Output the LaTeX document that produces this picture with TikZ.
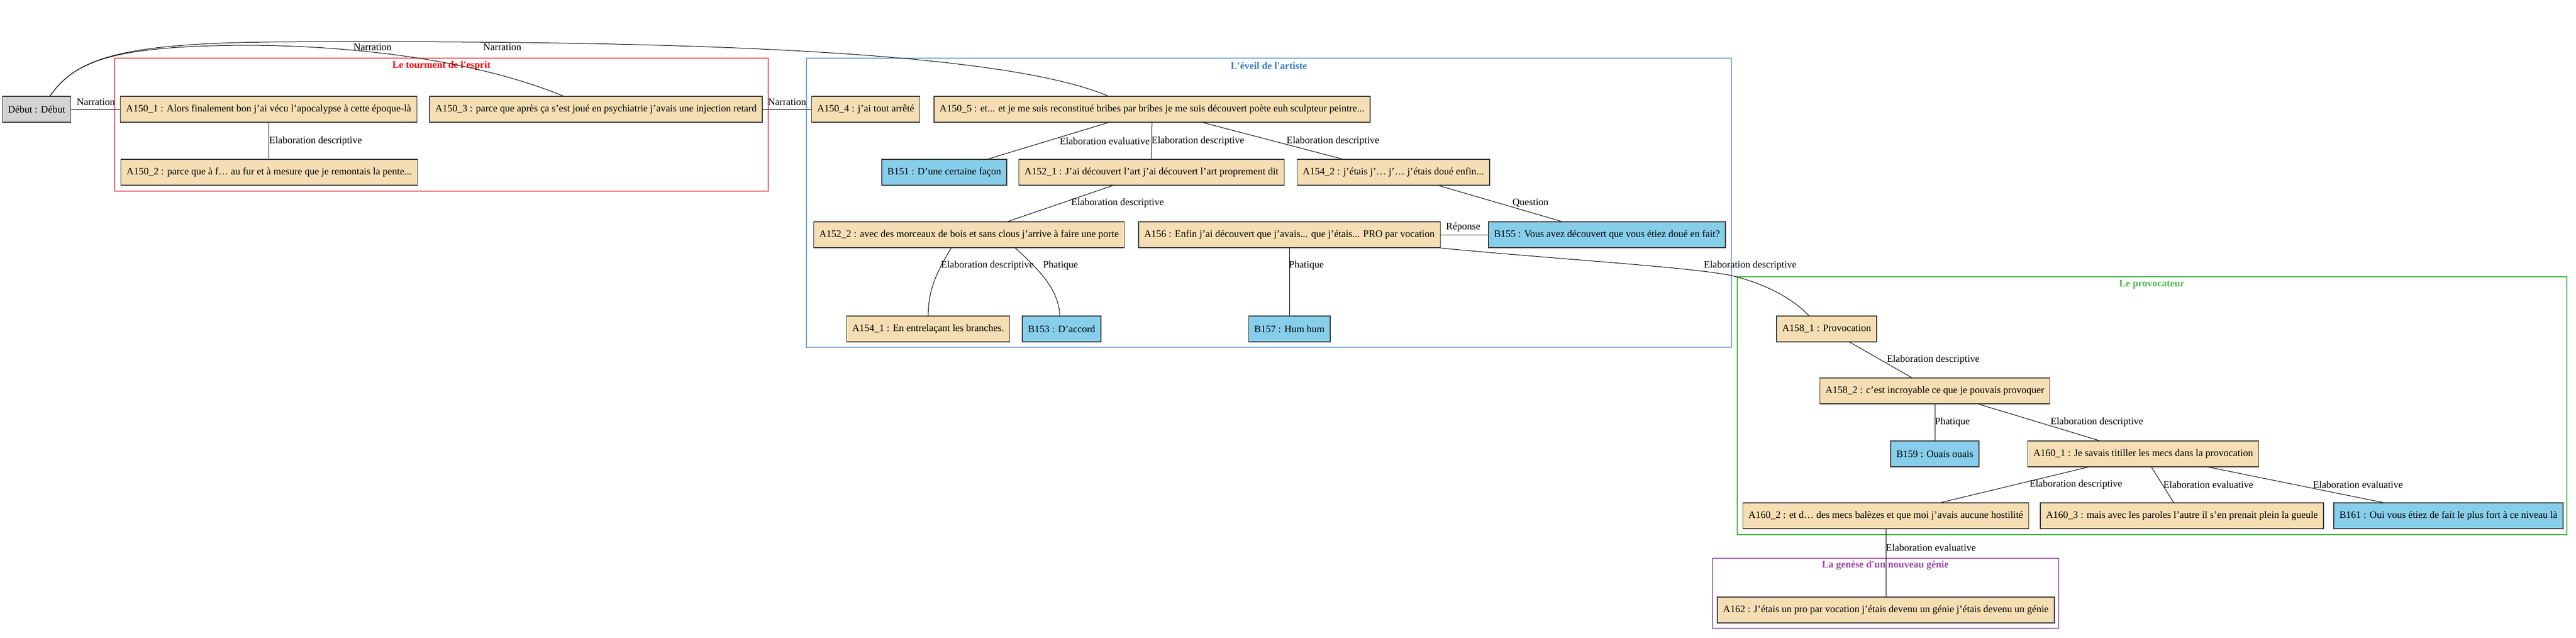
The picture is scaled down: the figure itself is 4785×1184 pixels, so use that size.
\documentclass[tikz,border=0pt]{standalone}
\usepackage{fontspec}
\setmainfont{Liberation Serif}
\usepackage{tikz}
\definecolor{wheatfill}{HTML}{F5DEB3}
\definecolor{skyfill}{HTML}{87CEEB}
\definecolor{debutfill}{HTML}{D3D3D3}
\definecolor{boxline}{HTML}{3A3A3A}
\definecolor{redgrp}{HTML}{E85A5E}
\definecolor{bluegrp}{HTML}{6FA3D4}
\definecolor{bluetitle}{HTML}{3A7DC0}
\definecolor{greengrp}{HTML}{4CB94C}
\definecolor{purplegrp}{HTML}{A86AB8}
\definecolor{purpletitle}{HTML}{9A4AA8}
\newcommand{\dfont}{\fontsize{18.5}{22}\selectfont}

\begin{document}
\begin{tikzpicture}[x=1pt,y=-1pt,
  utt/.style={draw=boxline,line width=1.5pt,fill=wheatfill,minimum height=48pt,inner xsep=10.5pt,inner ysep=0pt,font=\dfont},
  rep/.style={utt,fill=skyfill},
  lbl/.style={inner sep=0pt,font=\dfont},
  grp/.style={line width=1.5pt},
  gtitle/.style={inner sep=0pt,font=\dfont\bfseries},
  rel/.style={line width=1pt,black}]
\useasboundingbox (0,0) rectangle (4785,1184);
% groups
\draw[grp,draw=redgrp] (213,108) rectangle (1427,355);
\node[gtitle,text=red] (t_esprit) at (820,122) {Le tourment de l\textquotesingle esprit};
\draw[grp,draw=bluegrp] (1498,108) rectangle (3216,645);
\node[gtitle,text=bluetitle] (t_eveil) at (2357,122) {L\textquotesingle éveil de l\textquotesingle artiste};
\draw[grp,draw=greengrp] (3227,514) rectangle (4768,993);
\node[gtitle,text=greengrp] (t_provoc) at (3997,528) {Le provocateur};
\draw[grp,draw=purplegrp] (3181,1037) rectangle (3824,1167);
\node[gtitle,text=purpletitle] (t_genese) at (3502,1050) {La genèse d\textquotesingle un nouveau génie};
% utterances
\node[utt,fill=debutfill] (debut) at (68,203) {Début : Début};
\node[utt] (a150_1) at (499,203) {A150\_1 : Alors finalement bon j’ai vécu l’apocalypse à cette époque-là};
\node[utt] (a150_2) at (500,320) {A150\_2 : parce que à f… au fur et à mesure que je remontais la pente...};
\node[utt] (a150_3) at (1107,203) {A150\_3 : parce que après ça s’est joué en psychiatrie j’avais une injection retard};
\node[utt] (a150_4) at (1608,203) {A150\_4 : j’ai tout arrêté};
\node[utt] (a150_5) at (2140,203) {A150\_5 : et... et je me suis reconstitué bribes par bribes je me suis découvert poète euh sculpteur peintre...};
\node[rep] (b151) at (1754,320) {B151 : D’une certaine façon};
\node[utt] (a152_1) at (2139,320) {A152\_1 : J’ai découvert l’art j’ai découvert l’art proprement dit};
\node[utt] (a154_2) at (2588,320) {A154\_2 : j’étais j’… j’… j’étais doué enfin...};
\node[utt] (a152_2) at (1800,436) {A152\_2 : avec des morceaux de bois et sans clous j’arrive à faire une porte};
\node[utt] (a156) at (2395,436) {A156 : Enfin j’ai découvert que j’avais... que j’étais... PRO par vocation};
\node[rep] (b155) at (2985,436) {B155 : Vous avez découvert que vous étiez doué en fait?};
\node[utt] (a154_1) at (1724,611) {A154\_1 : En entrelaçant les branches.};
\node[rep] (b153) at (1972,611) {B153 : D’accord};
\node[rep] (b157) at (2395,611) {B157 : Hum hum};
\node[utt] (a158_1) at (3393,611) {A158\_1 : Provocation};
\node[utt] (a158_2) at (3594,726) {A158\_2 : c’est incroyable ce que je pouvais provoquer};
\node[rep] (b159) at (3594,843) {B159 : Ouais ouais};
\node[utt] (a160_1) at (3981,843) {A160\_1 : Je savais titiller les mecs dans la provocation};
\node[utt] (a160_2) at (3503,958) {A160\_2 : et d… des mecs balèzes et que moi j’avais aucune hostilité};
\node[utt] (a160_3) at (4053,958) {A160\_3 : mais avec les paroles l’autre il s’en prenait plein la gueule};
\node[rep] (b161) at (4548,958) {B161 : Oui vous étiez de fait le plus fort à ce niveau là};
\node[utt] (a162) at (3503,1133) {A162 : J’étais un pro par vocation j’étais devenu un génie j’étais devenu un génie};
% relations
\draw[rel] (debut) -- (a150_1);
\node[lbl] (l_debut) at (178,189) {Narration};
\draw[rel] ([xshift=25pt]debut.north) .. controls (140,110) and (220,86) .. (450,84) .. controls (650,84) and (880,110) .. ([xshift=-61pt]a150_3.north);
\node[lbl] (l_a150_3) at (692,87) {Narration};
\draw[rel] ([xshift=25pt]debut.north) .. controls (140,110) and (220,81) .. (500,78) .. controls (1200,74) and (1850,90) .. ([xshift=-82pt]a150_5.north);
\node[lbl] (l_a150_5) at (933,87) {Narration};
\draw[rel] (a150_1.south) -- (a150_2.north -| a150_1.south);
\node[lbl,anchor=west] (l_a150_2) at (500,262) {Elaboration descriptive};
\draw[rel] (a150_3) -- (a150_4);
\node[lbl] (l_a150_4) at (1462,189) {Narration};
\draw[rel] (a150_5) -- (b151);
\node[lbl] (l_b151) at (2052,262) {Elaboration evaluative};
\draw[rel] (a150_5) -- (a152_1);
\node[lbl,anchor=west] (l_a152_1) at (2139,262) {Elaboration descriptive};
\draw[rel] (a150_5) -- (a154_2);
\node[lbl] (l_a154_2) at (2476,262) {Elaboration descriptive};
\draw[rel] (a152_1) -- (a152_2);
\node[lbl] (l_a152_2) at (2076,377) {Elaboration descriptive};
\draw[rel] (a154_2) -- (b155);
\node[lbl] (l_b155) at (2843,377) {Question};
\draw[rel] (a156) -- (b155);
\node[lbl] (l_rep) at (2718,422) {Réponse};
\draw[rel] ([xshift=-33pt]a152_2.south) .. controls (1730,520) and (1725,550) .. (a154_1.north);
\node[lbl] (l_a154_1) at (1834,493) {Elaboration descriptive};
\draw[rel] ([xshift=86pt]a152_2.south) .. controls (1940,510) and (1965,540) .. ([xshift=-3pt]b153.north);
\node[lbl] (l_b153) at (1970,493) {Phatique};
\draw[rel] (a156) -- (b157);
\node[lbl,anchor=west] (l_b157) at (2394,493) {Phatique};
\draw[rel] (a156.south east) .. controls (2900,482) and (3140,496) .. (3217,512) .. controls (3290,530) and (3335,560) .. ([xshift=-33pt]a158_1.north);
\node[lbl] (l_a158_1) at (3251,493) {Elaboration descriptive};
\draw[rel] (a158_1) -- (a158_2);
\node[lbl] (l_a158_2) at (3591,668) {Elaboration descriptive};
\draw[rel] (a158_2) -- (b159);
\node[lbl,anchor=west] (l_b159) at (3594,784) {Phatique};
\draw[rel] (a158_2) -- (a160_1);
\node[lbl] (l_a160_1) at (3895,784) {Elaboration descriptive};
\draw[rel] (a160_1) -- (a160_2);
\node[lbl] (l_a160_2) at (3856,900) {Elaboration descriptive};
\draw[rel] (a160_1) -- (a160_3);
\node[lbl] (l_a160_3) at (4102,900) {Elaboration evaluative};
\draw[rel] (a160_1) -- (b161);
\node[lbl] (l_b161) at (4380,900) {Elaboration evaluative};
\draw[rel] (a160_2) -- (a162);
\node[lbl,anchor=west] (l_a162) at (3503,1017) {Elaboration evaluative};
\end{tikzpicture}
\end{document}
